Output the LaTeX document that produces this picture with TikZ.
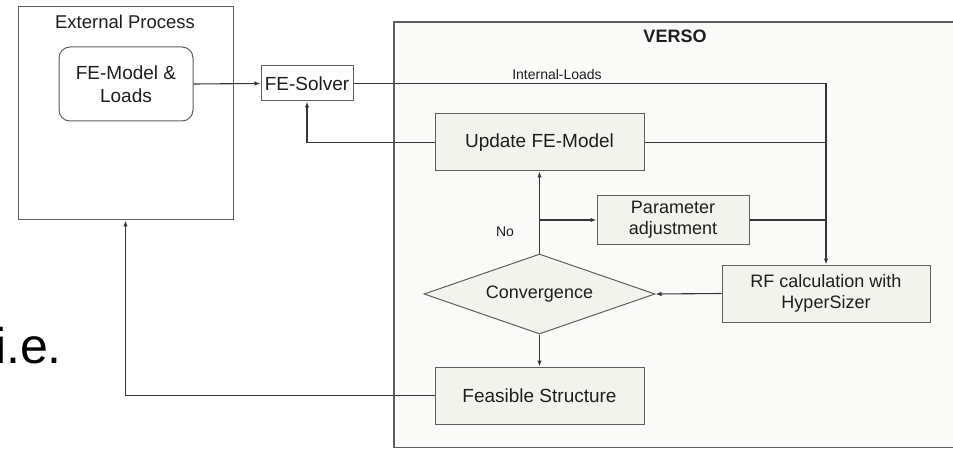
\documentclass[tikz,border=0pt]{standalone}
\usepackage{fontspec}
\setmainfont{Liberation Sans}
\usetikzlibrary{shapes.geometric,arrows.meta}
\definecolor{boxfill}{RGB}{243,243,237}
\definecolor{versofill}{RGB}{250,250,248}
\definecolor{edgegray}{RGB}{95,95,95}
\definecolor{wiregray}{RGB}{55,55,55}
\definecolor{ink}{RGB}{30,30,30}
\tikzset{
  proc/.style={draw=edgegray, line width=1pt, fill=boxfill, inner sep=0pt,
    align=center, text=ink, font=\fontsize{18}{21}\selectfont},
  wire/.style={draw=wiregray, line width=1.1pt},
  arr/.style={wire, -{Latex[length=6pt,width=4.5pt]}},
  lbl/.style={inner sep=0pt, text=ink}
}
\begin{document}
\begin{tikzpicture}[x=1pt,y=-1pt]
\useasboundingbox[fill=white] (0,0) rectangle (953,449);

% outer containers
\node[draw=edgegray, line width=1pt, fill=white, minimum width=215pt,
      minimum height=213pt, inner sep=0pt] (ext) at (125.5,113.5) {};
\node[lbl, font=\fontsize{18.5}{21}\selectfont] (exttitle) at (125,22) {External Process};
\node[draw=edgegray, line width=1.2pt, fill=versofill, minimum width=600pt,
      minimum height=425.5pt, inner sep=0pt] (verso) at (694,234.75) {};
\node[lbl, font=\bfseries\fontsize{18}{21}\selectfont] (versotitle) at (675,36) {VERSO};

% process nodes
\node[proc, rounded corners=11pt, fill=white, minimum width=134pt, minimum height=74pt,
      font=\fontsize{19}{23}\selectfont] (model) at (126,84) {FE-Model \&\\Loads};
\node[proc, fill=white, minimum width=92pt, minimum height=35pt,
      font=\fontsize{19}{22}\selectfont] (solver) at (307,83.5) {FE-Solver};
\node[proc, minimum width=209pt, minimum height=57pt,
      font=\fontsize{19}{22}\selectfont] (update) at (539.5,142.5) {Update FE-Model};
\node[proc, minimum width=152pt, minimum height=48pt] (param) at (673,220) {Parameter\\adjustment};
\node[proc, minimum width=208pt, minimum height=57pt] (rf) at (826,293.5) {RF calculation with\\HyperSizer};
\node[proc, diamond, aspect=2.89, minimum width=231pt, minimum height=80pt] (conv) at (539.5,294) {Convergence};
\node[proc, minimum width=209pt, minimum height=57pt,
      font=\fontsize{19}{22}\selectfont] (feas) at (539.5,395.5) {Feasible Structure};

% labels
\node[lbl, font=\fontsize{14}{16}\selectfont] (loadslbl) at (557,74) {Internal-Loads};
\node[lbl, font=\fontsize{14}{16}\selectfont] (nolbl) at (505,232) {No};
\node[lbl, anchor=base east, text=black, font=\fontsize{50}{56}\selectfont] (ie) at (62,363) {i.e.};

% connectors
\draw[arr] (model.east) -- (solver.west);
\draw[arr] (solver.east) -- (solver.east -| rf.north) -- (rf.north);
\draw[wire] (update.east) -- (update.east -| rf.north);
\draw[wire] (param.east) -- (param.east -| rf.north);
\draw[arr] (rf.west) -- (conv.east);
\draw[arr] (conv.north) -- (update.south);
\coordinate (split) at (conv.north |- param.west);
\draw[arr] (split) -- (param.west);
\draw[arr] (conv.south) -- (feas.north);
\draw[arr] (update.west) -- (update.west -| solver.south) -- (solver.south);
\draw[arr] (feas.west) -- (feas.west -| ext.south) -- (ext.south);
\end{tikzpicture}
\end{document}
